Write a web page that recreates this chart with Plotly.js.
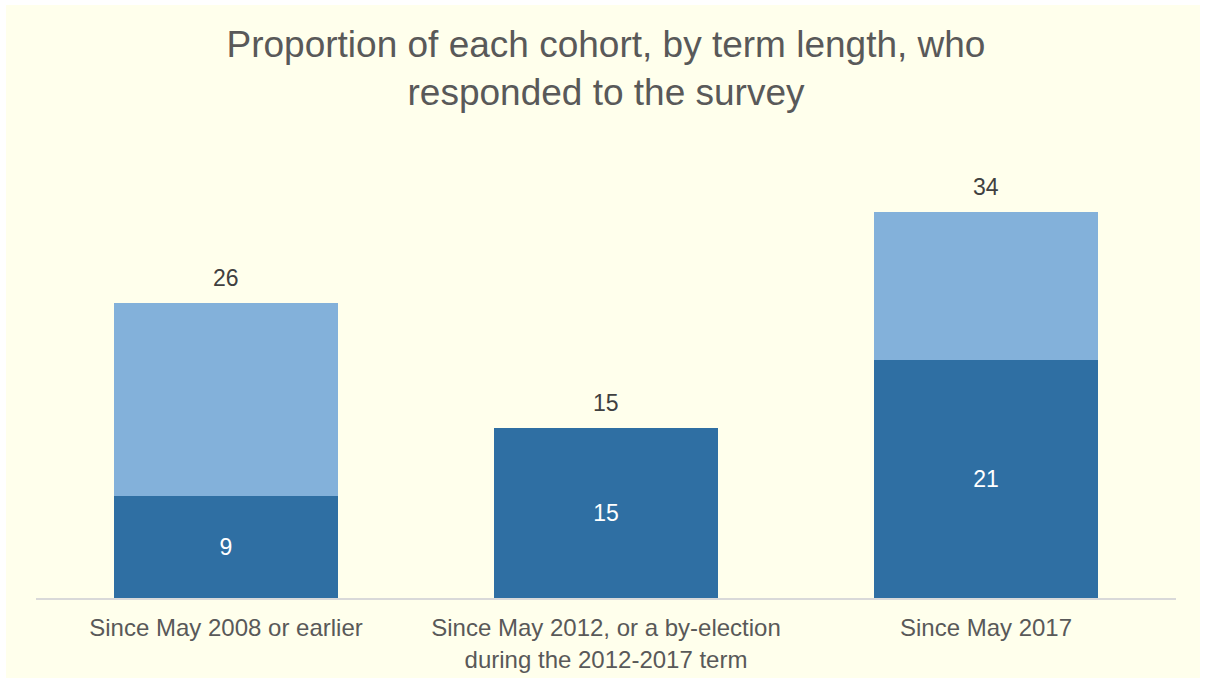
<!DOCTYPE html>
<html>
<head>
<meta charset="utf-8">
<script src="https://cdn.plot.ly/plotly-3.0.1.min.js"></script>
<style>
  html, body { margin: 0; padding: 0; background: #ffffff; }
  #chart { position: absolute; left: 6px; top: 5px; width: 1194px; height: 673px; }
</style>
</head>
<body>
<div id="chart"></div>
<script>
const categories = [
  'Since May 2008 or earlier',
  'Since May 2012, or a by-election<br>during the 2012-2017 term',
  'Since May 2017'
];
const lowerValues = [9, 15, 21];
const upperValues = [17, 0, 13];
const totals = [26, 15, 34];

const FONT = 'Liberation Sans, Arial, sans-serif';

const traces = [
  {
    type: 'bar',
    x: categories,
    y: lowerValues,
    marker: { color: '#2F6FA3' },
    text: lowerValues.map(String),
    textposition: 'inside',
    insidetextanchor: 'middle',
    textangle: 0,
    textfont: { family: FONT, size: 23, color: '#ffffff' },
    hoverinfo: 'x+y',
    showlegend: false
  },
  {
    type: 'bar',
    x: categories,
    y: upperValues,
    marker: { color: '#83B1DA' },
    textposition: 'none',
    hoverinfo: 'x+y',
    showlegend: false
  }
];

const annotations = categories.map((c, i) => ({
  x: c,
  y: totals[i],
  xref: 'x',
  yref: 'y',
  text: String(totals[i]),
  showarrow: false,
  yanchor: 'bottom',
  yshift: 10,
  font: { family: FONT, size: 23, color: '#404040' }
}));

const layout = {
  width: 1194,
  height: 673,
  paper_bgcolor: '#FFFFEC',
  plot_bgcolor: '#FFFFEC',
  barmode: 'stack',
  bargap: 0.408,
  margin: { l: 30, r: 24, t: 139, b: 80 },
  title: {
    text: 'Proportion of each cohort, by term length, who<br>responded to the survey',
    font: { family: FONT, size: 37, color: '#595959' },
    x: 0.5,
    xref: 'paper',
    xanchor: 'center',
    y: 1 - 52 / 673,
    yref: 'container',
    yanchor: 'top'
  },
  xaxis: {
    type: 'category',
    showline: true,
    linecolor: '#D9D9D9',
    linewidth: 1.5,
    ticks: '',
    showgrid: false,
    zeroline: false,
    ticklabelstandoff: 8,
    tickfont: { family: FONT, size: 24, color: '#595959' },
    fixedrange: true
  },
  yaxis: {
    range: [0, 40],
    visible: false,
    showgrid: false,
    zeroline: false,
    fixedrange: true
  },
  annotations: annotations,
  font: { family: FONT, color: '#595959' },
  showlegend: false
};

Plotly.newPlot('chart', traces, layout, { displayModeBar: false, staticPlot: true });
</script>
</body>
</html>
